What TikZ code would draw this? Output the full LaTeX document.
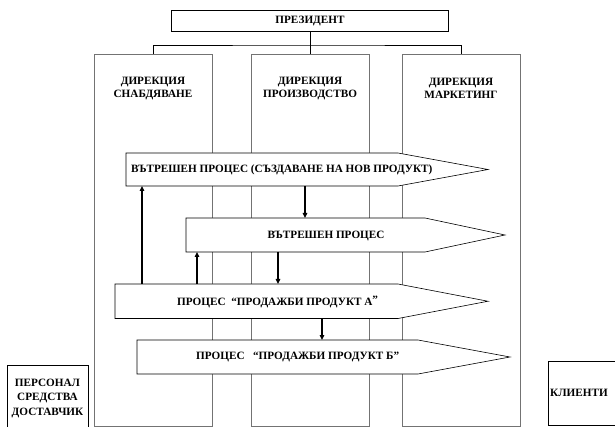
\documentclass[tikz,border=0pt]{standalone}
\usepackage{fontspec}
\setmainfont{Liberation Serif}
\usetikzlibrary{arrows.meta}
\begin{document}
\begin{tikzpicture}[x=1pt,y=-1pt,
  font=\fontsize{11.2}{13}\selectfont\bfseries,
  box/.style={draw=black, line width=0.6pt, inner sep=0pt},
  dirbox/.style={draw=black!55, line width=1pt, inner sep=0pt, minimum width=118pt, minimum height=371pt},
  body/.style={inner sep=0pt, outer sep=0pt},
  procshape/.style={draw=black, fill=white, line width=0.6pt, line join=miter},
  lbl/.style={inner sep=0pt, align=center},
  link/.style={draw=black, line width=0.6pt},
  flow/.style={line width=1.4pt, -{Triangle[length=5pt,width=4.5pt]}}]
\clip (0,0) rectangle (615,427);
% president and directorates
\node[box, minimum width=277pt, minimum height=21pt] (pres) at (310,20.5) {ПРЕЗИДЕНТ};
\node[dirbox] (d1) at (153,240.5) {};
\node[dirbox] (d2) at (310,240.5) {};
\node[dirbox] (d3) at (461,240.5) {};
\node[lbl] (t1) at (153,88.5) {ДИРЕКЦИЯ\\СНАБДЯВАНЕ};
\node[lbl] (t2) at (310,88.5) {ДИРЕКЦИЯ\\ПРОИЗВОДСТВО};
\node[lbl] (t3) at (461,88.5) {ДИРЕКЦИЯ\\МАРКЕТИНГ};
\coordinate (bus) at (310,45);
\draw[link] (pres.south) -- (bus);
\draw[link] (d1.north) |- (bus) -| (d3.north);
\draw[link] (d2.north) -- (d2.north |- bus);
% process bodies (left edge to shoulder)
\node[body, minimum width=272pt, minimum height=33pt] (p1) at (262,169.5) {};
\node[body, minimum width=239pt, minimum height=34pt] (p2) at (305.5,235) {};
\node[body, minimum width=283pt, minimum height=34.5pt] (pA) at (256.5,301.25) {};
\node[body, minimum width=281pt, minimum height=34pt] (pB) at (277.5,357) {};
\draw[procshape] (p1.north west) -- (p1.north east) -- ([xshift=90pt]p1.east) -- (p1.south east) -- (p1.south west) -- cycle;
\draw[procshape] (p2.north west) -- (p2.north east) -- ([xshift=80pt]p2.east) -- (p2.south east) -- (p2.south west) -- cycle;
\draw[procshape] (pA.north west) -- (pA.north east) -- ([xshift=90pt]pA.east) -- (pA.south east) -- (pA.south west) -- cycle;
\draw[procshape] (pB.north west) -- (pB.north east) -- ([xshift=92pt]pB.east) -- (pB.south east) -- (pB.south west) -- cycle;
\node[lbl, anchor=west] (l1) at (131,170) {ВЪТРЕШЕН ПРОЦЕС (СЪЗДАВАНЕ НА НОВ ПРОДУКТ)};
\node[lbl] (l2) at (326,236) {ВЪТРЕШЕН ПРОЦЕС};
\node[lbl, anchor=west] (lA) at (177,302) {ПРОЦЕС\ \ “ПРОДАЖБИ ПРОДУКТ А\raisebox{2.5pt}{”}};
\node[lbl, anchor=west] (lB) at (196,357) {ПРОЦЕС\ \ \ “ПРОДАЖБИ ПРОДУКТ Б”};
% vertical flows
\coordinate (xa) at (142,0);
\coordinate (xb) at (197,0);
\coordinate (xc) at (305,0);
\coordinate (xd) at (278,0);
\coordinate (xe) at (322,0);
\draw[flow] (pA.north -| xa) -- (p1.south -| xa);
\draw[flow] (pA.north -| xb) -- (p2.south -| xb);
\draw[flow] (p1.south -| xc) -- (p2.north -| xc);
\draw[flow] (p2.south -| xd) -- (pA.north -| xd);
\draw[flow] (pA.south -| xe) -- (pB.north -| xe);
% outside parties
\draw[box] (7,365) rectangle (88,440);
\node[lbl] (pers) at (47.5,398) {ПЕРСОНАЛ\\[1.5pt]СРЕДСТВА\\[1.5pt]ДОСТАВЧИК};
\draw[box] (548,361) rectangle (640,425);
\node[lbl, anchor=west] (kl) at (550,393) {КЛИЕНТИ};
\end{tikzpicture}
\end{document}
